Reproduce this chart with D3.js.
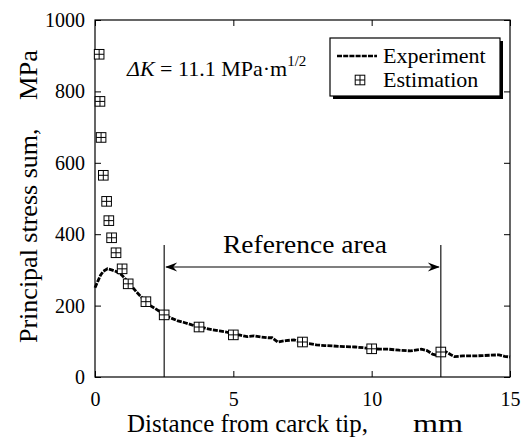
<!DOCTYPE html>
<html><head><meta charset="utf-8"><script src="https://cdn.jsdelivr.net/npm/d3@7"></script></head>
<body style="margin:0">
<svg id="plot" width="531" height="440"></svg>
<script>
// ---- data ----
const xTicks = [0, 5, 10, 15];
const yTicks = [0, 200, 400, 600, 800, 1000];

const expX = [0.0, 0.1, 0.2, 0.3, 0.45, 0.6, 0.75, 0.9, 1.0, 1.15, 1.3, 1.5, 1.75, 2.0, 2.25, 2.5, 2.75, 3.0, 3.25, 3.5, 3.75, 4.0, 4.25, 4.5, 4.75, 5.0, 5.25, 5.5, 5.75, 6.0, 6.25, 6.4, 6.6, 6.9, 7.2, 7.5, 7.8, 8.0, 8.3, 8.6, 9.0, 9.4, 9.7, 10.0, 10.3, 10.6, 11.0, 11.4, 11.8, 12.0, 12.2, 12.4, 12.5, 12.7, 12.85, 13.0, 13.3, 13.7, 14.0, 14.3, 14.6, 14.8, 15.0];
const expY = [250, 268, 285, 296, 303, 300, 296, 290, 283, 270, 257, 238, 218, 200, 188, 174, 165, 157, 152, 146, 142, 136, 132, 129, 126, 120, 117, 113, 115, 112, 110, 110, 98, 102, 104, 95, 93, 90, 88, 87, 85, 84, 82, 79, 78, 78, 75, 73, 78, 74, 64, 60, 66, 70, 63, 57, 59, 59, 60, 61, 62, 58, 56];

const estX = [0.15, 0.18, 0.22, 0.3, 0.42, 0.5, 0.6, 0.76, 0.98, 1.2, 1.84, 2.5, 3.76, 5.0, 7.5, 10.0, 12.5];
const estY = [904, 772, 671, 565, 492, 438, 390, 348, 303, 261, 211, 174, 140, 118, 98, 79, 70];

const refRange = [2.5, 12.5];
const refTop = 370;
const refArrowY = 308;

const s = d3.select("#plot");
const xs = d3.scaleLinear().domain([0, 15]).range([95, 510]);
const ys = d3.scaleLinear().domain([0, 1000]).range([377, 20]);

function serif(sel) {
  return sel.attr("font-family", "Liberation Serif").style("font-family", "'Liberation Serif'");
}

// frame
s.append("rect")
  .attr("x", xs(0)).attr("y", ys(1000))
  .attr("width", xs(15) - xs(0)).attr("height", ys(0) - ys(1000))
  .attr("fill", "none").attr("stroke", "#000").attr("stroke-width", 1.2);

// axes (ticks inside)
const tickLen = 6;
const gxB = s.append("g").attr("transform", `translate(0,${ys(0)})`)
  .call(d3.axisBottom(xs).tickValues(xTicks).tickSize(-tickLen).tickPadding(15).tickFormat(d3.format("d")));
const gxT = s.append("g").attr("transform", `translate(0,${ys(1000)})`)
  .call(d3.axisTop(xs).tickValues(xTicks).tickSize(-tickLen).tickFormat(""));
const gyL = s.append("g").attr("transform", `translate(${xs(0)},0)`)
  .call(d3.axisLeft(ys).tickValues(yTicks).tickSize(-tickLen).tickPadding(10).tickFormat(d3.format("d")));
const gyR = s.append("g").attr("transform", `translate(${xs(15)},0)`)
  .call(d3.axisRight(ys).tickValues(yTicks).tickSize(-tickLen).tickFormat(""));
[gxB, gxT, gyL, gyR].forEach(g => {
  g.attr("font-family", "Liberation Serif");
  g.select(".domain").remove();
  g.selectAll(".tick line").attr("stroke", "#000").attr("stroke-width", 1);
  serif(g.selectAll(".tick text").attr("font-size", 20).attr("fill", "#000"));
});

// axis titles
const xt = serif(s.append("text").attr("y", 432).attr("font-size", 25));
xt.append("tspan").attr("x", 127).attr("textLength", 241).attr("lengthAdjust", "spacingAndGlyphs").text("Distance from carck tip,");
xt.append("tspan").attr("x", 413).attr("textLength", 50).attr("lengthAdjust", "spacingAndGlyphs").text("mm");

const yt = serif(s.append("text").attr("transform", "translate(37,343) rotate(-90)").attr("font-size", 26));
yt.append("tspan").attr("x", 0).text("Principal stress sum,");
yt.append("tspan").attr("x", 243).attr("textLength", 50).attr("lengthAdjust", "spacingAndGlyphs").text("MPa");

// reference area
refRange.forEach(v => {
  s.append("line")
    .attr("x1", xs(v)).attr("x2", xs(v))
    .attr("y1", ys(0)).attr("y2", ys(refTop))
    .attr("stroke", "#000").attr("stroke-width", 1.1);
});
s.append("line")
  .attr("x1", xs(refRange[0]) + 2).attr("x2", xs(refRange[1]) - 2)
  .attr("y1", ys(refArrowY)).attr("y2", ys(refArrowY))
  .attr("stroke", "#000").attr("stroke-width", 1.1);
function arrowHead(tipX, dir) {
  const ty = ys(refArrowY);
  s.append("path")
    .attr("d", `M${tipX},${ty} L${tipX + dir * 12},${ty - 4.5} L${tipX + dir * 8},${ty} L${tipX + dir * 12},${ty + 4.5} Z`)
    .attr("fill", "#000");
}
arrowHead(xs(refRange[0]) + 1, 1);
arrowHead(xs(refRange[1]) - 1, -1);
serif(s.append("text")
  .attr("x", 223).attr("y", 253)
  .attr("font-size", 26).attr("textLength", 164).attr("lengthAdjust", "spacingAndGlyphs"))
  .text("Reference area");

// experiment line
const lineGen = d3.line().x((d, i) => xs(expX[i])).y(d => ys(d));
s.append("path")
  .datum(expY)
  .attr("d", lineGen)
  .attr("fill", "none").attr("stroke", "#000")
  .attr("stroke-width", 2.8).attr("stroke-dasharray", "5,1.2");

// estimation markers
function marker(g, cx, cy) {
  const r = 4.8;
  g.append("rect").attr("x", cx - r).attr("y", cy - r).attr("width", 2 * r).attr("height", 2 * r)
    .attr("fill", "#fff").attr("stroke", "#000").attr("stroke-width", 1);
  g.append("line").attr("x1", cx - r).attr("x2", cx + r).attr("y1", cy).attr("y2", cy).attr("stroke", "#000").attr("stroke-width", 1);
  g.append("line").attr("x1", cx).attr("x2", cx).attr("y1", cy - r).attr("y2", cy + r).attr("stroke", "#000").attr("stroke-width", 1);
}
const mg = s.append("g");
estX.forEach((v, i) => marker(mg, xs(v), ys(estY[i])));

// ΔK annotation
const ann = serif(s.append("text").attr("x", 127).attr("y", 76).attr("font-size", 22));
ann.append("tspan").attr("font-style", "italic").text("\u0394K");
ann.append("tspan").text(" = 11.1 MPa\u00B7m");
ann.append("tspan").attr("font-size", 15).attr("dy", -10).text("1/2");

// legend
const lg = s.append("g");
lg.append("rect").attr("x", 333).attr("y", 41).attr("width", 170).attr("height", 58).attr("fill", "#000");
lg.append("rect").attr("x", 330).attr("y", 38).attr("width", 170).attr("height", 58)
  .attr("fill", "#fff").attr("stroke", "#000").attr("stroke-width", 1.2);
lg.append("line").attr("x1", 337).attr("x2", 377).attr("y1", 56).attr("y2", 56)
  .attr("stroke", "#000").attr("stroke-width", 2.6).attr("stroke-dasharray", "5,1.2");
serif(lg.append("text").attr("x", 383).attr("y", 63).attr("font-size", 22)).text("Experiment");
marker(lg, 360, 80);
serif(lg.append("text").attr("x", 383).attr("y", 87).attr("font-size", 22)).text("Estimation");
</script></body></html>
